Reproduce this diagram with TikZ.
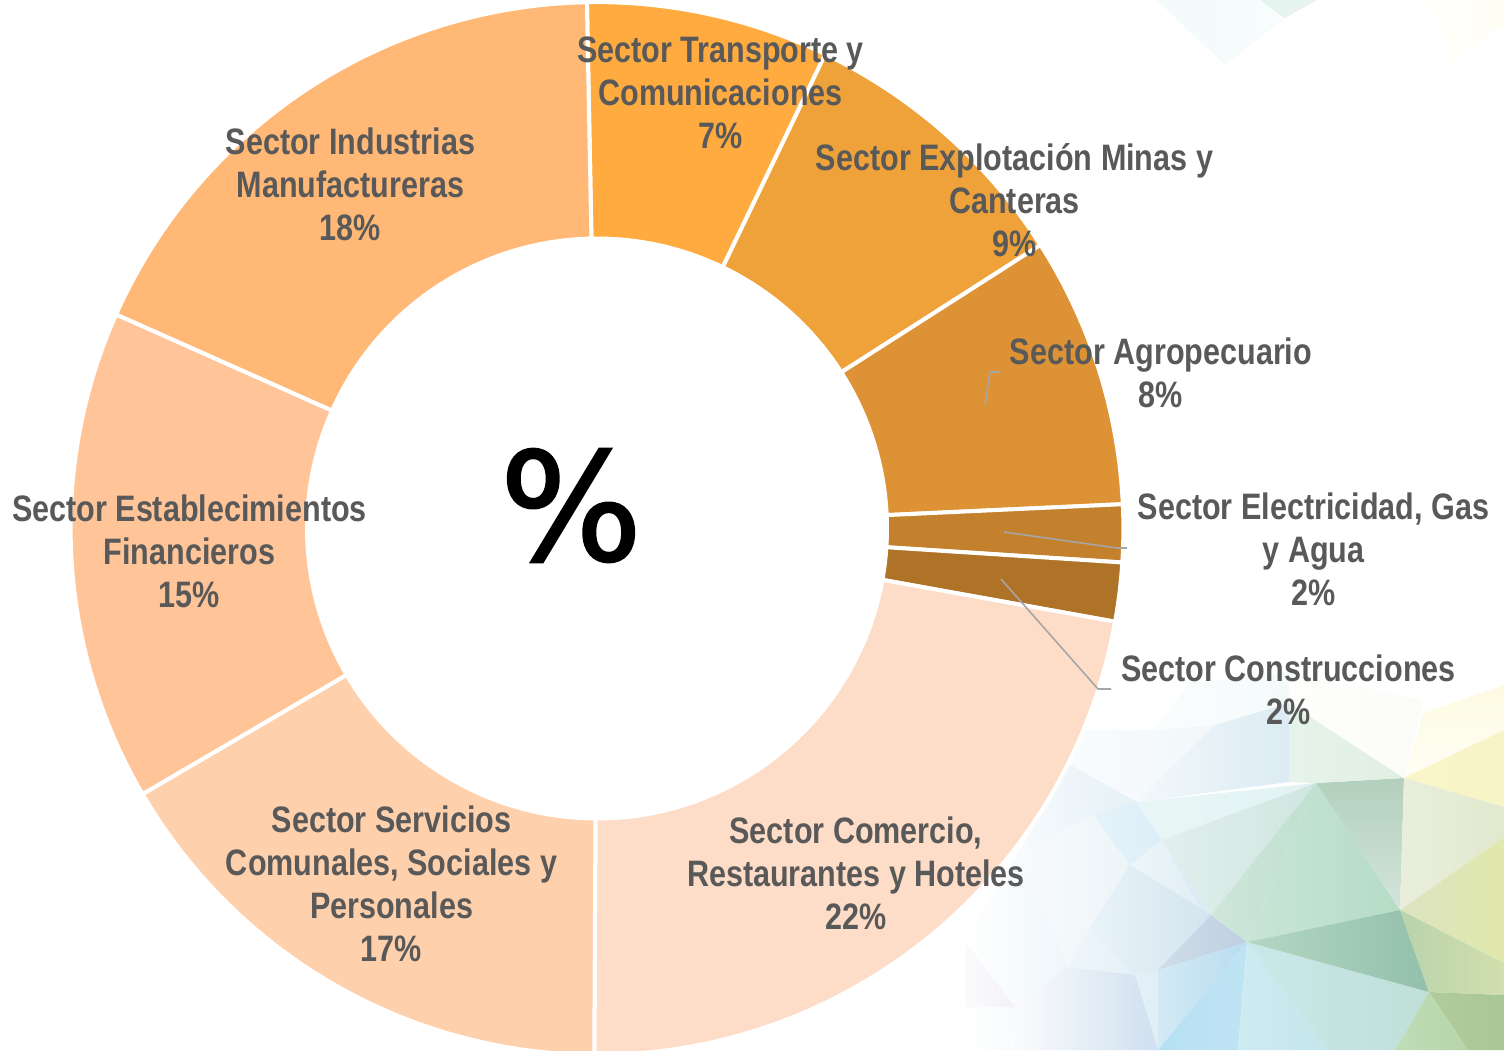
\documentclass[tikz,border=0pt]{standalone}
\usepackage{fontspec}
\setmainfont{Liberation Sans}
\newfontfamily\labfont[FakeStretch=0.83]{Liberation Sans}
\newfontfamily\pctfont[FakeBold=1.5]{DejaVu Sans}
\definecolor{labtext}{HTML}{595959}
\definecolor{leader}{HTML}{A6A6A6}
\newcommand{\ringseg}[3]{\definecolor{segc}{HTML}{#3}\fill[segc,draw=white,line width=2pt,line join=miter]
  (#1:263.2pt) arc[start angle=#1,end angle=#2,radius=263.2pt] -- (#2:145pt)
  arc[start angle=#2,end angle=#1,radius=145pt] -- cycle;}
\newcommand{\facet}[4]{\definecolor{faa}{HTML}{#1}\definecolor{fab}{HTML}{#2}\pgfmathsetmacro{\facetang}{90-#3}\path[left color=faa,right color=fab,shading angle=\facetang] #4 -- cycle;}
\tikzset{lab/.style={font=\labfont\bfseries\fontsize{18.4}{21.5}\selectfont,text=labtext,align=center,inner sep=0pt},
 lead/.style={draw=leader,line width=.8pt}}
\begin{document}
\begin{tikzpicture}[x=.5pt,y=-.5pt]
\useasboundingbox (0,0) rectangle (1504,1050);
\fill[white] (0,0) rectangle (1504,1050);
% background: top right
\facet{F3FAFB}{F8FCFD}{0}{(1157,0) -- (1225,65) -- (1285,18) -- (1260,0)}
\facet{E3F4F0}{E8F3EC}{0}{(1260,0) -- (1285,18) -- (1317,0)}
\facet{FFFFFA}{FFFEF5}{0}{(1420,0) -- (1440,25) -- (1450,62) -- (1504,25) -- (1504,0)}
% background: bottom right, fade to the left
\facet{FFFFFF}{D8EAF5}{0}{(964,1050) -- (964,940) -- (1020,850) -- (1070,765) -- (1137,802) -- (1162,840) -- (1211,915) -- (1158,1050)}
\facet{F9FCFD}{F1F7FA}{0}{(1070,765) -- (1084,730) -- (1153,730) -- (1215,725) -- (1137,802)}
\facet{FAFDFD}{F5FAFB}{0}{(1153,730) -- (1190,683) -- (1289,672) -- (1289,703) -- (1215,725)}
\facet{F2F8FB}{DCEBF3}{0}{(1137,802) -- (1215,725) -- (1289,703) -- (1289,782)}
\facet{EEF5F8}{E6F2F7}{0}{(1070,765) -- (1137,802) -- (1110,815) -- (1093,815)}
\facet{E5F2F9}{DDEFF9}{0}{(1093,815) -- (1137,802) -- (1162,840) -- (1130,865)}
\facet{F8FBFC}{EDF4F8}{0}{(1020,850) -- (1093,815) -- (1130,865) -- (1090,928) -- (1067,967)}
\facet{EEF6FA}{DFEDF3}{0}{(1130,865) -- (1162,840) -- (1200,908) -- (1211,915)}
\facet{E9F3F9}{D4E4EE}{0}{(1090,928) -- (1130,865) -- (1211,915) -- (1158,970) -- (1135,975)}
\facet{CFDDE8}{BFCFE0}{0}{(1158,970) -- (1211,915) -- (1247,942)}
\facet{D3EAF5}{B9DCEF}{0}{(1158,970) -- (1247,942) -- (1158,1050)}
\facet{FCFCFD}{CFE0EF}{0}{(1010,1050) -- (1015,1007) -- (1067,967) -- (1135,975) -- (1158,1050)}
\facet{FBFAFD}{F4F2F8}{0}{(965,942) -- (1015,1007) -- (965,1007)}
\facet{B7E0F4}{BFE3F3}{0}{(1158,1050) -- (1247,942) -- (1238,1050)}
\facet{CEEBF1}{C4E6EA}{0}{(1238,1050) -- (1247,942) -- (1328,1050)}
\facet{CAE8E9}{C0DFD8}{0}{(1328,1050) -- (1247,942) -- (1429,992) -- (1395,1050)}
\facet{E9F6F5}{E2F2F4}{0}{(1137,802) -- (1316,783) -- (1162,840)}
\facet{E2EFED}{CFE6DF}{0}{(1162,840) -- (1316,783) -- (1211,915)}
\facet{CFE6DB}{BFE0CF}{0}{(1211,915) -- (1316,783) -- (1247,942)}
\facet{C9E5D7}{B5DCC5}{0}{(1247,942) -- (1316,783) -- (1400,910)}
\facet{B4D7C3}{92C0AA}{0}{(1247,942) -- (1400,910) -- (1429,992)}
\facet{B3D0BC}{D3E5DB}{90}{(1316,783) -- (1404,778) -- (1400,910)}
\facet{E6F3EA}{E1EFE2}{0}{(1289,703) -- (1404,778) -- (1316,783) -- (1289,782)}
\facet{FEFEFD}{FBFCF8}{0}{(1289,672) -- (1423,700) -- (1404,778) -- (1289,703)}
\facet{FDFBE2}{FFFEF4}{90}{(1423,713) -- (1504,685) -- (1504,730) -- (1404,778)}
\facet{F9F5C9}{F7F4C8}{0}{(1404,778) -- (1504,730) -- (1504,807)}
\facet{E9EEDB}{E2E9CF}{0}{(1404,778) -- (1504,807) -- (1504,837) -- (1400,910)}
\facet{DDE4C2}{E0E8AC}{0}{(1400,910) -- (1504,837) -- (1504,963)}
\facet{B9D3AB}{D2DFAE}{0}{(1400,910) -- (1504,963) -- (1504,995) -- (1429,992)}
\facet{B0CC9C}{A9C695}{0}{(1429,992) -- (1504,995) -- (1504,1050) -- (1468,1050)}
\facet{BFDDB7}{B6D5A8}{0}{(1429,992) -- (1468,1050) -- (1395,1050)}
% ring
\begin{scope}[shift={(597,528.5)},y=.5pt]
\ringseg{64.3}{91.1}{FFAB40}
\ringseg{32.6}{64.3}{EFA23A}
\ringseg{2.65}{32.6}{DD9236}
\ringseg{-3.7}{2.65}{C3812D}
\ringseg{-10.2}{-3.7}{AF7327}
\ringseg{-90.3}{-10.2}{FEDDC8}
\ringseg{-149.7}{-90.3}{FED0AC}
\ringseg{-204}{-149.7}{FFC497}
\ringseg{-268.9}{-204}{FFB876}
\end{scope}
% leaders
\coordinate (agA) at (985,405); \coordinate (agB) at (990,372); \coordinate (agC) at (1000,372);
\coordinate (elA) at (1004,532); \coordinate (elB) at (1117,548); \coordinate (elC) at (1127,548);
\coordinate (coA) at (1001,579); \coordinate (coB) at (1098,689); \coordinate (coC) at (1111,689);
\draw[lead] (agA) -- (agB) -- (agC);
\draw[lead] (elA) -- (elB) -- (elC);
\draw[lead] (coA) -- (coB) -- (coC);
% labels
\node[lab] (trans) at (720.5,92.5) {Sector Transporte y\\Comunicaciones\\7\%};
\node[lab] (expl) at (1014.5,200.5) {Sector Explotación Minas y\\Canteras\\9\%};
\node[lab] (agro) at (1161,373) {Sector Agropecuario\\8\%};
\node[lab] (elec) at (1313.5,549.5) {Sector Electricidad, Gas\\y Agua\\2\%};
\node[lab] (cons) at (1288.5,690) {Sector Construcciones\\2\%};
\node[lab] (come) at (856,873.5) {Sector Comercio,\\Restaurantes y Hoteles\\22\%};
\node[lab] (serv) at (391.5,884) {Sector Servicios\\Comunales, Sociales y\\Personales\\17\%};
\node[lab] (esta) at (189.5,551.5) {Sector Establecimientos\\Financieros\\15\%};
\node[lab] (indu) at (350.5,184.5) {Sector Industrias\\Manufactureras\\18\%};
\node[inner sep=0pt,font=\pctfont\fontsize{75}{75}\selectfont,text=black] (pct) at (571,505.5) {\%};
\end{tikzpicture}
\end{document}
